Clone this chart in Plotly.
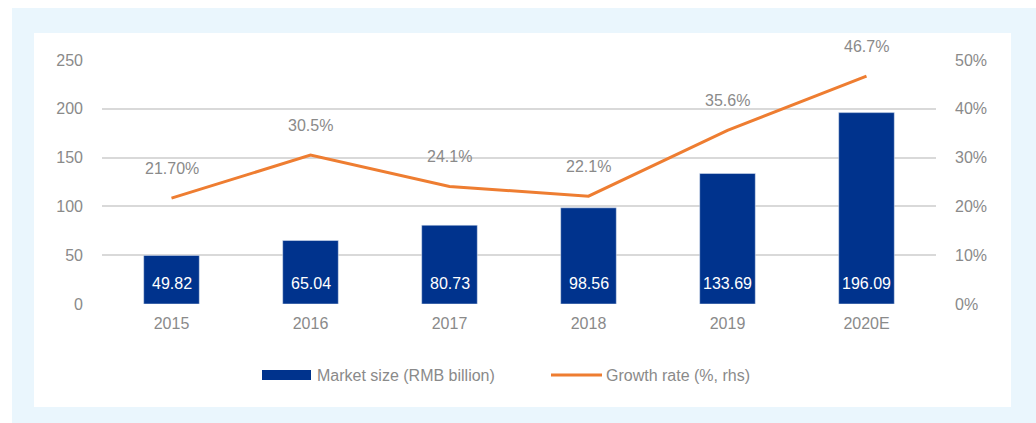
import plotly.graph_objects as go

years = ["2015", "2016", "2017", "2018", "2019", "2020E"]
market_size = [49.82, 65.04, 80.73, 98.56, 133.69, 196.09]
growth_rate = [21.7, 30.5, 24.1, 22.1, 35.6, 46.7]
growth_labels = ["21.70%", "30.5%", "24.1%", "22.1%", "35.6%", "46.7%"]
size_labels = ["49.82", "65.04", "80.73", "98.56", "133.69", "196.09"]

BLUE = "#00338D"
ORANGE = "#EE7D31"
GRAY = "#8A8A8A"
FONT = "Liberation Sans, Arial, sans-serif"

W, H = 1036, 423
L, R, T, B = 102, 100, 60, 119
PW, PH = W - L - R, H - T - B


def px(x):
    return (x - L) / PW


def py(y):
    return (H - B - y) / PH


fig = go.Figure()

fig.add_trace(go.Bar(
    x=years, y=market_size, name="Market size (RMB billion)",
    marker_color=BLUE, width=0.4, showlegend=False, hoverinfo="x+y",
))

fig.add_trace(go.Scatter(
    x=years, y=growth_rate, name="Growth rate (%, rhs)", yaxis="y2",
    mode="lines", line=dict(color=ORANGE, width=3), showlegend=False,
))

# value labels on bars (near the base) and above the growth line
# (category axis: annotations placed by category index)
for i, lab in enumerate(size_labels):
    fig.add_annotation(x=i, y=0, text=lab, showarrow=False, yshift=21,
                       font=dict(color="white", size=16, family=FONT))
for i, (g, lab) in enumerate(zip(growth_rate, growth_labels)):
    fig.add_annotation(x=i, y=g, yref="y2", text=lab, showarrow=False, yshift=30,
                       font=dict(color=GRAY, size=16, family=FONT))

# background panels
fig.add_shape(type="rect", xref="paper", yref="paper", layer="below",
              x0=px(12), x1=px(1040), y0=py(427), y1=py(8),
              fillcolor="#EAF6FD", line_width=0)
fig.add_shape(type="rect", xref="paper", yref="paper", layer="below",
              x0=px(34), x1=px(1011), y0=py(407), y1=py(33),
              fillcolor="white", line_width=0)

# hand-drawn legend
fig.add_shape(type="rect", xref="paper", yref="paper",
              x0=px(262), x1=px(311), y0=py(380), y1=py(370),
              fillcolor=BLUE, line_width=0)
fig.add_annotation(xref="paper", yref="paper", x=px(315), y=py(375),
                   xanchor="left", yanchor="middle",
                   text="Market size (RMB billion)", showarrow=False,
                   font=dict(color=GRAY, size=16, family=FONT))
fig.add_shape(type="line", xref="paper", yref="paper",
              x0=px(551), x1=px(602), y0=py(375), y1=py(375),
              line=dict(color=ORANGE, width=3))
fig.add_annotation(xref="paper", yref="paper", x=px(604), y=py(375),
                   xanchor="left", yanchor="middle",
                   text="Growth rate (%, rhs)", showarrow=False,
                   font=dict(color=GRAY, size=16, family=FONT))

fig.update_layout(
    width=W, height=H,
    margin=dict(l=L, r=R, t=T, b=B),
    paper_bgcolor="white", plot_bgcolor="white",
    font=dict(family=FONT, size=16, color=GRAY),
    showlegend=False,
    xaxis=dict(type="category", range=[-0.5, len(years) - 0.5], showline=False,
               ticks="", ticklabelstandoff=8, tickfont=dict(color=GRAY, size=16)),
    yaxis=dict(range=[0, 250], dtick=50, showgrid=True, gridcolor="#D9D9D9",
               gridwidth=1.5, zeroline=False, ticks="", ticklabelstandoff=18,
               tickfont=dict(color=GRAY, size=16)),
    yaxis2=dict(range=[0, 50], dtick=10, overlaying="y", side="right",
                showgrid=False, zeroline=False, ticksuffix="%", ticks="",
                ticklabelstandoff=18, tickfont=dict(color=GRAY, size=16)),
)

fig.write_html("out.html", config={"displayModeBar": False},
               post_script="document.body.style.margin='0';")
